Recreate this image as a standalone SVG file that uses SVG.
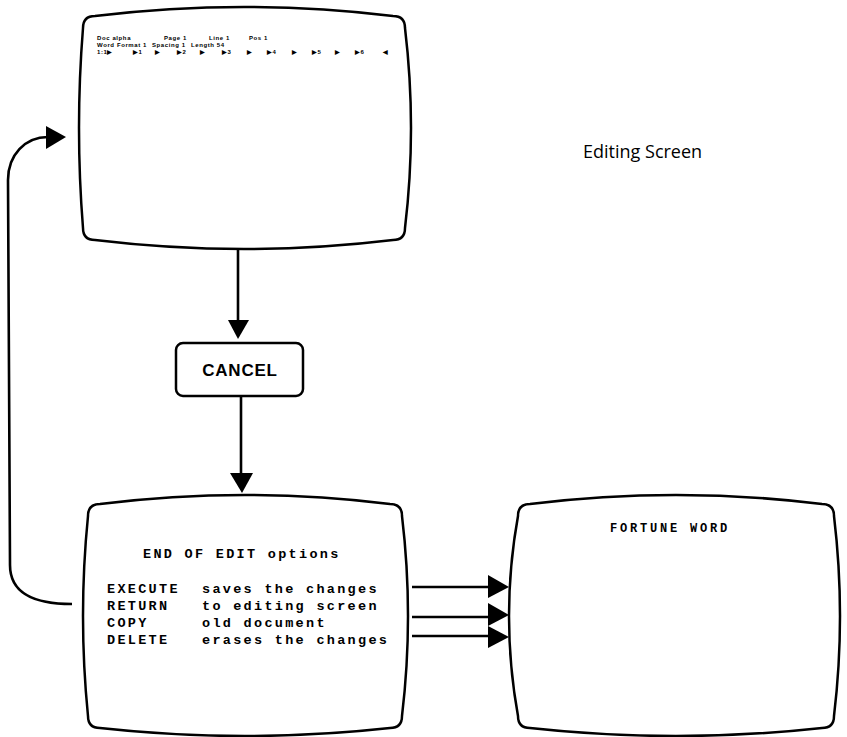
<svg xmlns="http://www.w3.org/2000/svg" width="847" height="737" viewBox="0 0 847 737">
<style>
.scr{fill:#fff;stroke:#000;stroke-width:2.5;stroke-linejoin:round}
.ln{fill:none;stroke:#000;stroke-width:2.6}
.ah{fill:#000;stroke:none}
.tiny{font-family:"Liberation Sans",Arial,sans-serif;font-size:6px;font-weight:bold;letter-spacing:0.6px;fill:#000}
.mono{font-family:"Liberation Mono","Courier New",monospace;font-size:13.5px;font-weight:bold;letter-spacing:2.3px;fill:#000}
.fw{font-family:"Liberation Mono","Courier New",monospace;font-size:12px;font-weight:bold;letter-spacing:2.8px;fill:#000}
.lbl{font-family:"Open Sans","Liberation Sans",sans-serif;font-size:18px;fill:#000}
.btn{font-family:"Liberation Sans",Arial,sans-serif;font-size:17px;font-weight:bold;letter-spacing:0.8px;fill:#000}
</style>
<rect width="847" height="737" fill="#fff"/>
<g id="connectors">
<path class="ln" d="M238,249 L238,322"/>
<polygon class="ah" points="228,320 249,320 238,339"/>
<path class="ln" d="M241,396 L241,475"/>
<polygon class="ah" points="230,473 253,473 242,493"/>
<path class="ln" d="M412,587 L490,587"/>
<polygon class="ah" points="488,575 488,598 509,587"/>
<path class="ln" d="M412,617 L490,617"/>
<polygon class="ah" points="488,603 488,626 509,615"/>
<path class="ln" d="M412,636 L490,636"/>
<polygon class="ah" points="488,626 488,648 509,637"/>
<path class="ln" d="M72,604 C35,604 10,594 10,565 L8,180 C8,155 25,137 48,137"/>
<polygon class="ah" points="46,126 46,149 66,137"/>
</g>
<g id="editing-screen">
<path class="scr" d="M95,16 Q244,-2 393,16 Q405,16 405,28 Q417,128 405,228 Q405,240 393,240 Q244,258 95,240 Q83,240 83,228 Q75,128 83,28 Q83,16 95,16 Z"/>
<text class="tiny" y="40"><tspan x="97">Doc alpha</tspan><tspan x="164">Page 1</tspan><tspan x="209">Line 1</tspan><tspan x="249">Pos 1</tspan></text>
<text class="tiny" y="47"><tspan x="97">Word Format 1</tspan><tspan x="152">Spacing 1</tspan><tspan x="191">Length 54</tspan></text>
<text class="tiny" y="54"><tspan x="97">1:1▶</tspan><tspan x="133">▶1</tspan><tspan x="155">▶</tspan><tspan x="177">▶2</tspan><tspan x="200">▶</tspan><tspan x="222">▶3</tspan><tspan x="247">▶</tspan><tspan x="267">▶4</tspan><tspan x="292">▶</tspan><tspan x="312">▶5</tspan><tspan x="335">▶</tspan><tspan x="355">▶6</tspan><tspan x="383">◀</tspan></text>
</g>
<g id="editing-screen-label">
<text class="lbl" x="583" y="158">Editing Screen</text>
</g>
<g id="cancel">
<rect class="scr" x="176" y="343" width="127" height="53" rx="7"/>
<text class="btn" x="240" y="376" text-anchor="middle">CANCEL</text>
</g>
<g id="end-of-edit">
<path class="scr" d="M100,504 Q245,486 390,504 Q402,504 402,516 Q414,616 402,716 Q402,728 390,728 Q245,744 100,728 Q88,728 88,716 Q78,616 88,516 Q88,504 100,504 Z"/>
<text class="mono" x="143" y="558">END OF EDIT options</text>
<text class="mono" y="593"><tspan x="107">EXECUTE</tspan><tspan x="202">saves the changes</tspan></text>
<text class="mono" y="610"><tspan x="107">RETURN</tspan><tspan x="202">to editing screen</tspan></text>
<text class="mono" y="627"><tspan x="107">COPY</tspan><tspan x="202">old document</tspan></text>
<text class="mono" y="644"><tspan x="107">DELETE</tspan><tspan x="202">erases the changes</tspan></text>
</g>
<g id="fortune-word">
<path class="scr" d="M530,504 Q676,486 822,504 Q834,504 834,516 Q846,616 834,716 Q834,728 822,728 Q676,744 530,728 Q518,728 518,716 Q500,616 518,516 Q518,504 530,504 Z"/>
<text class="fw" x="610" y="532">FORTUNE WORD</text>
</g>
</svg>
